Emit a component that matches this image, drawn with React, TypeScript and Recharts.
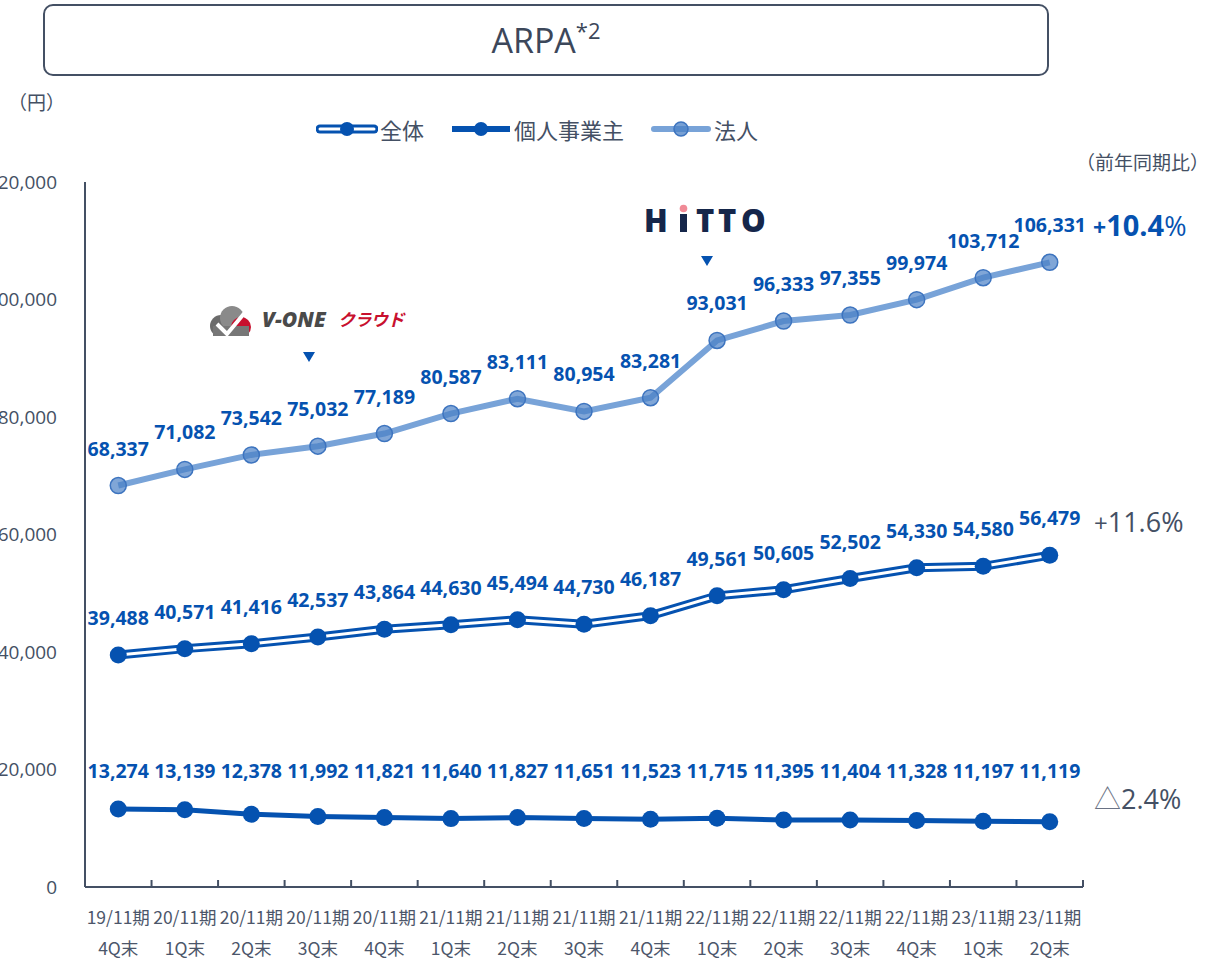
import React from 'react';
import { LineChart, Line, XAxis, YAxis, LabelList } from 'recharts';

const periods = ['19/11期', '20/11期', '20/11期', '20/11期', '20/11期', '21/11期', '21/11期', '21/11期', '21/11期', '22/11期', '22/11期', '22/11期', '22/11期', '23/11期', '23/11期'];
const quarters = ['4Q末', '1Q末', '2Q末', '3Q末', '4Q末', '1Q末', '2Q末', '3Q末', '4Q末', '1Q末', '2Q末', '3Q末', '4Q末', '1Q末', '2Q末'];

const hojin = [68337, 71082, 73542, 75032, 77189, 80587, 83111, 80954, 83281, 93031, 96333, 97355, 99974, 103712, 106331];
const zentai = [39488, 40571, 41416, 42537, 43864, 44630, 45494, 44730, 46187, 49561, 50605, 52502, 54330, 54580, 56479];
const kojin = [13274, 13139, 12378, 11992, 11821, 11640, 11827, 11651, 11523, 11715, 11395, 11404, 11328, 11197, 11119];

const yTicks = [0, 20000, 40000, 60000, 80000, 100000, 120000];

const data = periods.map((p, i) => ({
  name: p + '\n' + quarters[i],
  hojin: hojin[i],
  zentai: zentai[i],
  kojin: kojin[i],
}));

const DARK = '#0552b0';
const LIGHT = '#78a3d8';
const GRAY = '#445064';
const FONT = "'Open Sans', 'Noto Sans CJK JP', sans-serif";
const JP = "'Noto Sans CJK JP', 'Open Sans', sans-serif";

const CHART_LEFT = -40;
const CHART_W = 1249;
const CHART_H = 962;
const M = { top: 182, right: 126, bottom: 0, left: 45 };
const Y_W = 80;
const PLOT_W = CHART_W - M.left - M.right - Y_W;
const BAND = PLOT_W / periods.length;
const KOJIN_LABEL_Y = 778;

const fmt = (v: number) => v.toLocaleString('en-US');

const XTick = (props: any) => {
  const { x, y, payload } = props;
  const [a, b] = String(payload.value).split('\n');
  return (
    <g>
      <line x1={x + BAND / 2} x2={x + BAND / 2} y1={y} y2={y - 7} stroke={GRAY} strokeWidth={2} />
      <text x={x} y={y + 37} textAnchor="middle" fill="#4c566a" fontSize={17.5} fontFamily={JP}>{a}</text>
      <text x={x} y={y + 68} textAnchor="middle" fill="#4c566a" fontSize={17.5} fontFamily={JP}>{b}</text>
    </g>
  );
};

const valueLabel = (fixedY?: number) => (props: any) => {
  const { x, y, value } = props;
  return (
    <text x={x} y={fixedY ?? y - 30} textAnchor="middle" fill={DARK} fontSize={19.5} fontWeight={700} fontFamily={FONT}>
      {fmt(value)}
    </text>
  );
};

const LegendIcon = ({ kind }: { kind: string }) => (
  <svg width={62} height={20} style={{ marginRight: 2 }}>
    {kind === 'zentai' && (
      <>
        <line x1={4} x2={58} y1={10} y2={10} stroke={DARK} strokeWidth={9} strokeLinecap="round" />
        <line x1={4} x2={58} y1={10} y2={10} stroke="#fff" strokeWidth={3} strokeLinecap="round" />
        <circle cx={31} cy={10} r={7} fill={DARK} />
      </>
    )}
    {kind === 'kojin' && (
      <>
        <line x1={2} x2={60} y1={10} y2={10} stroke={DARK} strokeWidth={6} />
        <circle cx={31} cy={10} r={7} fill={DARK} />
      </>
    )}
    {kind === 'hojin' && (
      <>
        <line x1={4} x2={58} y1={10} y2={10} stroke={LIGHT} strokeWidth={6} strokeLinecap="round" />
        <circle cx={31} cy={10} r={7} fill="#4a80c6" fillOpacity={0.75} stroke="#3d74bf" strokeWidth={1.5} />
      </>
    )}
  </svg>
);

const legendItems = [
  { kind: 'zentai', label: '全体' },
  { kind: 'kojin', label: '個人事業主' },
  { kind: 'hojin', label: '法人' },
];

const Triangle = ({ left, top }: { left: number; top: number }) => (
  <svg width={14} height={12} style={{ position: 'absolute', left, top }}>
    <polygon points="1,1 13,1 7,11" fill={DARK} />
  </svg>
);

export default function App() {
  return (
    <div style={{ position: 'absolute', left: 0, top: 0, width: 1209, height: 962, overflow: 'hidden', background: '#fff', fontFamily: JP }}>
      {/* title box */}
      <div style={{ position: 'absolute', left: 43, top: 4, width: 1002, height: 68, border: `2.5px solid ${GRAY}`, borderRadius: 10, display: 'flex', alignItems: 'center', justifyContent: 'center', color: '#3c475a', fontFamily: FONT, fontSize: 34 }}>
        <span style={{ marginLeft: 0 }}>ARPA<sup style={{ fontSize: 22, position: 'relative', top: -2 }}>*2</sup></span>
      </div>

      <div style={{ position: 'absolute', left: 8, top: 88, fontSize: 19, color: GRAY }}>（円）</div>
      <div style={{ position: 'absolute', left: 1076, top: 148, fontSize: 19, color: GRAY }}>（前年同期比）</div>

      {/* legend */}
      <div style={{ position: 'absolute', left: 316, top: 113, display: 'flex', alignItems: 'center', fontSize: 22, color: GRAY }}>
        {legendItems.map((it) => (
          <div key={it.kind} style={{ display: 'flex', alignItems: 'center', marginRight: 26 }}>
            <LegendIcon kind={it.kind} />
            <span>{it.label}</span>
          </div>
        ))}
      </div>

      <div style={{ position: 'absolute', left: CHART_LEFT, top: 0 }}>
        <LineChart width={CHART_W} height={CHART_H} data={data} margin={M}>
          <XAxis
            dataKey="name"
            height={75}
            interval={0}
            padding={{ left: BAND / 2, right: BAND / 2 }}
            axisLine={{ stroke: GRAY, strokeWidth: 2 }}
            tickLine={false}
            tickSize={0}
            tickMargin={0}
            tick={<XTick />}
          />
          <YAxis
            width={Y_W}
            domain={[0, 120000]}
            ticks={yTicks}
            interval={0}
            axisLine={{ stroke: GRAY, strokeWidth: 2 }}
            tickLine={false}
            tickMargin={22}
            tickFormatter={fmt}
            tick={{ fill: GRAY, fontSize: 19, fontFamily: FONT }}
          />
          <Line dataKey="hojin" stroke={LIGHT} strokeWidth={6} isAnimationActive={false}
            dot={{ r: 8, fill: '#4a80c6', fillOpacity: 0.7, stroke: '#3d74bf', strokeWidth: 1.5 }} activeDot={false}>
            <LabelList dataKey="hojin" content={valueLabel()} />
          </Line>
          <Line dataKey="zentai" stroke={DARK} strokeWidth={9} dot={false} activeDot={false} isAnimationActive={false} />
          <Line dataKey="zentai" stroke="#fff" strokeWidth={3} dot={false} activeDot={false} isAnimationActive={false} />
          <Line dataKey="zentai" stroke="none" dot={{ r: 8.5, fill: DARK, stroke: 'none' }} activeDot={false} isAnimationActive={false}>
            <LabelList dataKey="zentai" content={valueLabel()} />
          </Line>
          <Line dataKey="kojin" stroke={DARK} strokeWidth={5} dot={{ r: 8.5, fill: DARK, stroke: 'none' }} activeDot={false} isAnimationActive={false}>
            <LabelList dataKey="kojin" content={valueLabel(KOJIN_LABEL_Y)} />
          </Line>
        </LineChart>
      </div>

      {/* V-ONE cloud logo */}
      <div style={{ position: 'absolute', left: 207, top: 304, width: 215, height: 32, overflow: 'hidden' }}>
        <svg width={46} height={40} style={{ position: 'absolute', left: 0, top: 0 }}>
          <circle cx={14} cy={22} r={11} fill="#6b6b6b" />
          <circle cx={25} cy={14} r={12} fill="#8a8a8a" />
          <circle cx={34} cy={23} r={10} fill="#c8102e" />
          <rect x={6} y={22} width={36} height={14} fill="#777" />
          <polyline points="10,20 20,30 40,6" fill="none" stroke="#fff" strokeWidth={4} />
        </svg>
        <span style={{ position: 'absolute', left: 55, top: 1, fontFamily: FONT, fontStyle: 'italic', fontWeight: 800, fontSize: 21, color: '#4a4a4a', letterSpacing: 0, lineHeight: '28px' }}>V-ONE</span>
        <span style={{ position: 'absolute', left: 131, top: 1, fontStyle: 'italic', fontWeight: 700, fontSize: 17, color: '#c8102e', lineHeight: '28px', letterSpacing: -0.5 }}>クラウド</span>
      </div>
      <Triangle left={302} top={351} />

      {/* HiTTO logo */}
      <svg width={130} height={32} style={{ position: 'absolute', left: 642, top: 204 }}>
        <g fill="#15264a" fontFamily={FONT} fontWeight={800} fontSize={31}>
          <text x={2} y={28}>H</text>
          <rect x={38} y={10} width={7} height={18} />
          <text x={54} y={28}>T</text>
          <text x={76} y={28}>T</text>
          <text x={99} y={28}>O</text>
        </g>
        <circle cx={41.5} cy={4.5} r={3.8} fill="#f08a96" />
      </svg>
      <Triangle left={700} top={255} />

      {/* year over year */}
      <div style={{ position: 'absolute', left: 1093, top: 205, color: DARK, fontFamily: FONT, fontWeight: 700, whiteSpace: 'nowrap' }}>
        <span style={{ fontSize: 23 }}>+</span><span style={{ fontSize: 29 }}>10.4</span><span style={{ fontSize: 27, fontWeight: 400 }}>%</span>
      </div>
      <div style={{ position: 'absolute', left: 1094, top: 503, color: GRAY, fontFamily: FONT, fontSize: 27, whiteSpace: 'nowrap' }}>
        <span style={{ fontSize: 24 }}>+</span>11.6%
      </div>
      <div style={{ position: 'absolute', left: 1094, top: 778, color: GRAY, fontFamily: FONT, fontSize: 27, whiteSpace: 'nowrap' }}>
        <span style={{ fontFamily: JP, fontWeight: 300, color: '#6a7284' }}>△</span>2.4%
      </div>
    </div>
  );
}
